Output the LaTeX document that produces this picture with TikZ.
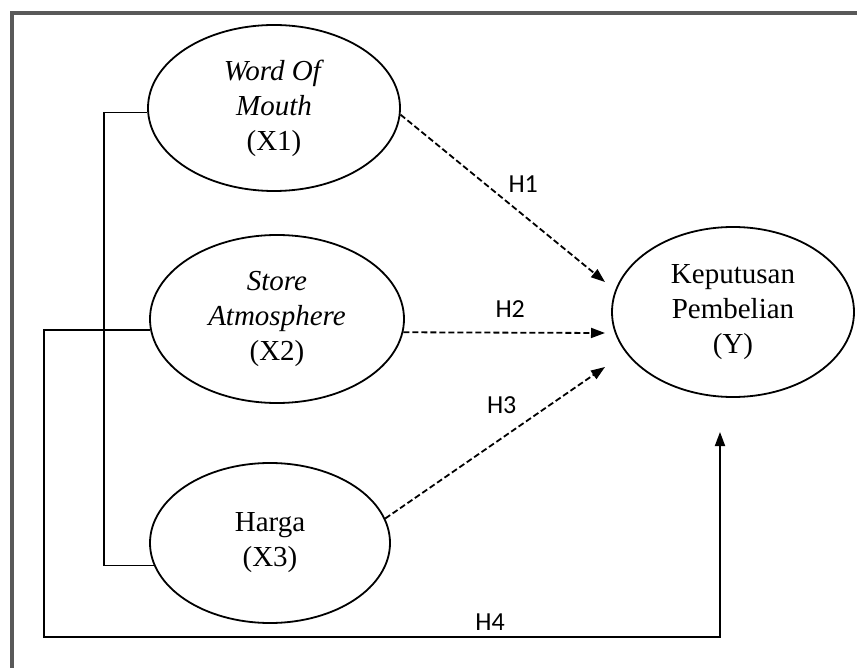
\documentclass[tikz,border=0pt]{standalone}
\usepackage{fontspec}
\setmainfont{Liberation Serif}
\newfontfamily\hfont{Carlito}
\usetikzlibrary{shapes.geometric,arrows.meta}

\begin{document}
\begin{tikzpicture}[x=0.5pt, y=-0.5pt]
        \tikzstyle{latent}=[ellipse, draw=black, line width=0.9pt, inner sep=0pt, align=center, font=\fontsize{14.5}{17.5}\selectfont]
        \tikzstyle{hyp}=[font=\hfont\fontsize{13}{15}\selectfont, inner sep=1pt]
        \tikzstyle{link}=[line width=0.9pt, -{Triangle[length=7pt, width=5pt]}]
        \tikzstyle{dashlink}=[link, dash pattern=on 3pt off 1.5pt]

        \useasboundingbox (0, 0) rectangle (857, 668);

        % Frame
        \draw [line width=1.6pt, black!65] (12, 668) -- (12, 13) -- (857, 13);

        % Independent
        \draw node at (274, 108) [latent, minimum width=126pt, minimum height=83pt] (wom) {\textit{Word Of}\\ \textit{Mouth}\\ (X1)};
        \draw node at (277, 319) [latent, minimum width=127pt, minimum height=84pt] (store) {\textit{Store}\\ \textit{Atmosphere}\\ (X2)};
        \draw node at (270, 543) [latent, minimum width=120pt, minimum height=80pt] (harga) {Harga\\ (X3)};

        % Dependent
        \draw node at (733, 312) [latent, minimum width=121pt, minimum height=85pt] (kep) {Keputusan\\ Pembelian\\ (Y)};

        % Arrow ends
        \coordinate (end_1) at (605, 282);
        \coordinate (end_2) at (605, 333);
        \coordinate (end_3) at (605, 367);
        \coordinate (end_4) at (720, 432);
        \coordinate (bus) at (104, 0);
        \coordinate (corner) at (44, 637);

        % Bracket X1 -- X3
        \draw [line width=0.9pt] (wom.182) -| (bus |- harga.191) -- (harga.191);

        % Partial
        \draw [dashlink] (wom.357) to node[hyp, pos=0.6, above=10pt] {H1} (end_1);
        \draw [dashlink] (store.354) to node[hyp, pos=0.53, above=6pt] {H2} (end_2);
        \draw [dashlink] (harga.12) to node[hyp, pos=0.53, above=11pt] {H3} (end_3);

        % Simultaneous
        \draw [link] (store.185) -| (corner) -| node[hyp, pos=0.33, above=2pt] {H4} (end_4);

    \end{tikzpicture}
\end{document}
